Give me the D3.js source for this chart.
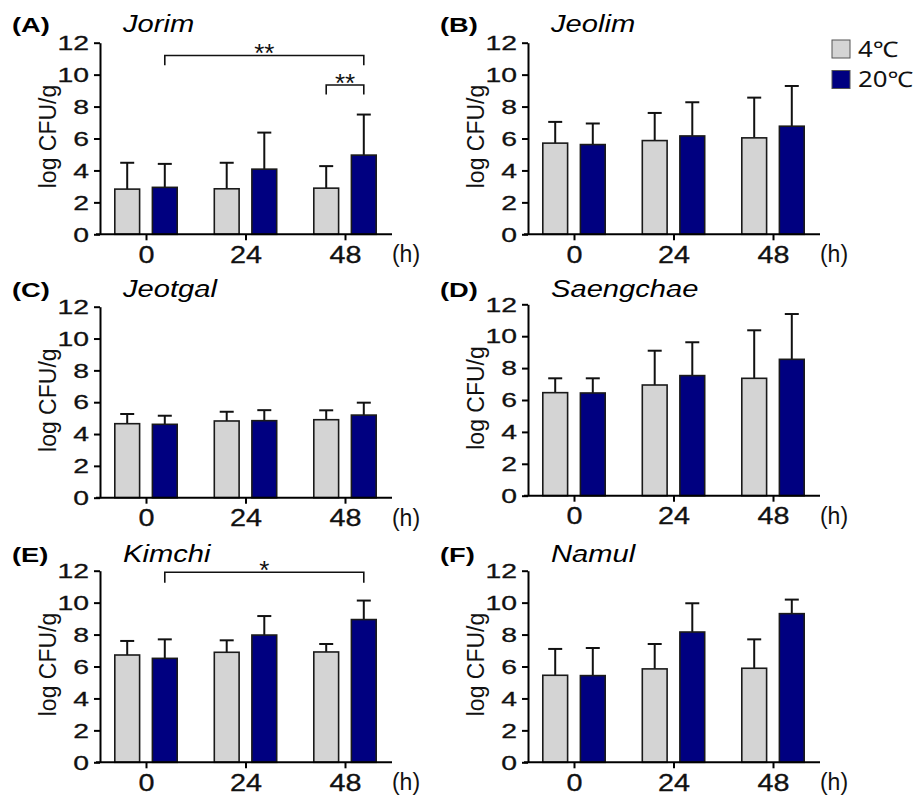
<!DOCTYPE html>
<html>
<head>
<meta charset="utf-8">
<script src="https://cdn.jsdelivr.net/npm/d3@7"></script>
<style>
  html, body { margin: 0; padding: 0; background: #fff; }
  svg { display: block; font-family: "Liberation Sans", Arial, sans-serif; }
</style>
</head>
<body>
<svg id="chart" width="918" height="796"></svg>
<script>
// ---------------- data ----------------
const hours = ["0", "24", "48"];
const series = ["4℃", "20℃"];
const panelIds = ["A", "B", "C", "D", "E", "F"];
const foods = ["Jorim", "Jeolim", "Jeotgal", "Saengchae", "Kimchi", "Namul"];
const mean4 = [[2.83, 2.85, 2.89], [5.71, 5.87, 6.04], [4.65, 4.82, 4.90], [6.46, 6.94, 7.36], [6.72, 6.89, 6.91], [5.45, 5.85, 5.89]];
const sd4 = [[1.65, 1.63, 1.38], [1.33, 1.73, 2.52], [0.61, 0.58, 0.59], [0.90, 2.15, 3.01], [0.88, 0.75, 0.50], [1.65, 1.56, 1.81]];
const mean20 = [[2.94, 4.08, 4.96], [5.62, 6.16, 6.77], [4.61, 4.84, 5.19], [6.44, 7.53, 8.55], [6.51, 7.97, 8.94], [5.43, 8.16, 9.31]];
const sd20 = [[1.47, 2.29, 2.54], [1.32, 2.11, 2.52], [0.54, 0.66, 0.78], [0.92, 2.09, 2.84], [1.19, 1.19, 1.19], [1.73, 1.80, 0.88]];
const yTicks = [0, 2, 4, 6, 8, 10, 12];
const yLabel = "log CFU/g";
const xUnit = "(h)";
// significance brackets: panel, start [hour, series], end [hour, series], level, label
const brackets = [
  { panel: "A", from: ["0", "20℃"], to: ["48", "20℃"], level: 11.2, drop: 0.62, label: "**" },
  { panel: "A", from: ["48", "4℃"], to: ["48", "20℃"], level: 9.35, drop: 0.6, label: "**" },
  { panel: "E", from: ["0", "20℃"], to: ["48", "20℃"], level: 11.9, drop: 0.65, label: "*" }
];

// ---------------- layout ----------------
const colors = { "4℃": "#d4d4d4", "20℃": "#000080" };
const colLeft = [100, 528];
const rowTop = [[42.7, 234.3], [42.7, 234.3], [306.7, 497.7], [304.3, 495.7], [570.7, 762.3], [570.7, 762.3]];
const titleBase = [32, 32, 297, 297, 562, 562];

const svg = d3.select("#chart");

function stretchText(sel, sx) {
  sel.each(function () {
    const t = d3.select(this);
    const x = +(t.attr("x") || 0);
    t.attr("x", x / sx).attr("transform", `scale(${sx},1)`);
  });
}

panelIds.forEach((pid, i) => {
  const L = colLeft[i % 2];
  const [yTop, yBot] = rowTop[i];
  const g = svg.append("g");

  const x = d3.scalePoint().domain(hours).range([L + 46, L + 245]);
  const xs = d3.scaleBand().domain(series).range([-31.2, 31.2]).paddingInner(0.34);
  const y = d3.scaleLinear().domain([0, 12]).range([yBot, yTop]);
  const bw = xs.bandwidth();

  const rows = [];
  hours.forEach((h, j) => {
    rows.push({ h, s: series[0], m: mean4[i][j], sd: sd4[i][j] });
    rows.push({ h, s: series[1], m: mean20[i][j], sd: sd20[i][j] });
  });
  const cx = d => x(d.h) + xs(d.s) + bw / 2;

  // error bars (upper only)
  const eb = g.append("g").attr("stroke", "#111").attr("stroke-width", 2).attr("fill", "none");
  eb.selectAll("line.v").data(rows).join("line").attr("class", "v")
    .attr("x1", cx).attr("x2", cx)
    .attr("y1", d => y(d.m)).attr("y2", d => y(d.m + d.sd));
  eb.selectAll("line.c").data(rows).join("line").attr("class", "c")
    .attr("x1", d => cx(d) - 7).attr("x2", d => cx(d) + 7)
    .attr("y1", d => y(d.m + d.sd)).attr("y2", d => y(d.m + d.sd));

  // bars
  g.append("g").selectAll("rect").data(rows).join("rect")
    .attr("x", d => cx(d) - bw / 2)
    .attr("y", d => y(d.m))
    .attr("width", bw)
    .attr("height", d => y(0) - y(d.m))
    .attr("fill", d => colors[d.s])
    .attr("stroke", "#1a1a1a")
    .attr("stroke-width", 1.6);

  // y axis
  const ya = g.append("g").attr("transform", `translate(${L},0)`)
    .call(d3.axisLeft(y).tickValues(yTicks).tickFormat(d3.format("d")).tickSize(6).tickSizeOuter(0).tickPadding(5));
  ya.select(".domain").attr("stroke-width", 2);
  ya.selectAll(".tick line").attr("stroke-width", 2);
  ya.selectAll(".tick text").attr("font-size", 21).attr("fill", "#111")
    .attr("stroke", "#111").attr("stroke-width", 0.3).call(stretchText, 1.35);

  // x axis
  const xa = g.append("g").attr("transform", `translate(0,${yBot})`)
    .call(d3.axisBottom(x).tickSize(6).tickSizeOuter(0).tickPadding(6));
  xa.select(".domain").remove();
  xa.selectAll(".tick line").attr("stroke-width", 2);
  xa.selectAll(".tick text").attr("font-size", 23).attr("fill", "#111")
    .attr("stroke", "#111").attr("stroke-width", 0.3).call(stretchText, 1.25);
  g.append("line").attr("x1", L - 4).attr("x2", L + 292).attr("y1", yBot).attr("y2", yBot)
    .attr("stroke", "#000").attr("stroke-width", 2);

  // unit label
  g.append("text").attr("x", L + 306).attr("y", yBot + 28).attr("text-anchor", "middle")
    .attr("font-size", 23).attr("fill", "#111").text(xUnit);

  // y label
  g.append("text")
    .attr("transform", `translate(${L - 44},${(yTop + yBot) / 2 - 2}) rotate(-90)`)
    .attr("text-anchor", "middle").attr("font-size", 23).attr("fill", "#111").text(yLabel);

  // panel letter & title
  g.append("text").attr("x", (L - 88) / 1.3).attr("y", titleBase[i]).attr("transform", "scale(1.3,1)")
    .attr("font-size", 21).attr("font-weight", "bold").attr("fill", "#000").text(`(${pid})`);
  g.append("text").attr("x", (L + 23) / 1.24).attr("y", titleBase[i]).attr("transform", "scale(1.24,1)")
    .attr("font-size", 23.5).attr("font-style", "italic").attr("fill", "#000").text(foods[i]);

  // significance brackets
  brackets.filter(b => b.panel === pid).forEach(b => {
    const x1 = x(b.from[0]) + xs(b.from[1]) + bw / 2;
    const x2 = x(b.to[0]) + xs(b.to[1]) + bw / 2;
    const yl = y(b.level), yd = y(b.level - b.drop);
    g.append("path")
      .attr("d", `M${x1},${yd}V${yl}H${x2}V${yd}`)
      .attr("fill", "none").attr("stroke", "#111").attr("stroke-width", 1.6);
    g.append("text").attr("x", (x1 + x2) / 2).attr("y", yl + 6.5).attr("text-anchor", "middle")
      .attr("font-size", 26).attr("fill", "#111").text(b.label);
  });
});

// legend
const leg = svg.append("g").attr("transform", "translate(832,40)");
series.forEach((s, k) => {
  const row = leg.append("g").attr("transform", `translate(0,${k * 30.5})`);
  row.append("rect").attr("x", 0).attr("y", 0).attr("width", 18).attr("height", 18)
    .attr("fill", colors[s]).attr("stroke", "#555").attr("stroke-width", 1);
  row.append("text").attr("x", 26 / 1.2).attr("y", 16.5).attr("transform", "scale(1.2,1)")
    .attr("font-size", 21.5).attr("fill", "#111")
    .attr("font-family", "'Noto Sans', 'Liberation Sans', sans-serif").text(s);
});
</script>
</body>
</html>
